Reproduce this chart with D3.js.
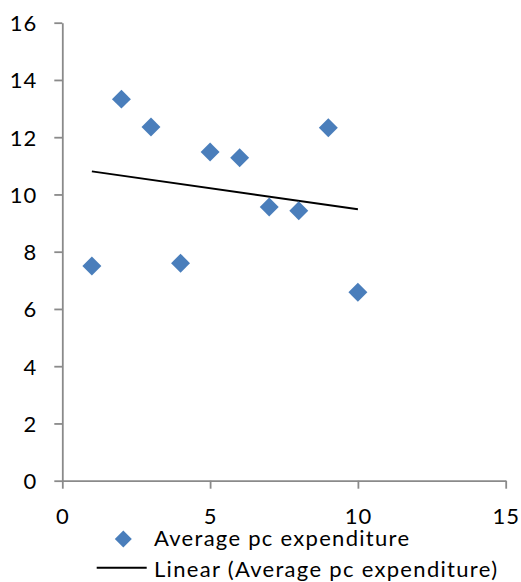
<!DOCTYPE html>
<html>
<head>
<meta charset="utf-8">
<script src="https://cdn.jsdelivr.net/npm/d3@7"></script>
<style>
  html, body { margin: 0; padding: 0; background: #ffffff; }
  svg { display: block; }
  text { font-family: Lato, "Open Sans", sans-serif; fill: #000; }
</style>
</head>
<body>
<svg id="chart" width="521" height="582"></svg>
<script>
// Observation index and average per-capita expenditure
const observations = [1, 2, 3, 4, 5, 6, 7, 8, 9, 10];
const expenditure = [7.50, 13.33, 12.36, 7.60, 11.48, 11.28, 9.56, 9.43, 12.33, 6.58];
const xTicks = [0, 5, 10, 15];
const yTicks = [0, 2, 4, 6, 8, 10, 12, 14, 16];
const seriesName = "Average pc expenditure";
const trendName = "Linear (Average pc expenditure)";

const svg = d3.select("#chart");
const W = 521, H = 582;
const margin = { left: 62.3, right: W - 505.7, top: 22.7, bottom: H - 480.7 };

const x = d3.scaleLinear().domain([0, 15]).range([margin.left, W - margin.right]);
const y = d3.scaleLinear().domain([0, 16]).range([H - margin.bottom, margin.top]);

const axisColor = "#8a8a8a";
const fontSize = 22;
const fontFamily = "Lato, 'Open Sans', sans-serif";

// Y axis
const yAxis = svg.append("g")
  .attr("transform", `translate(${x(0)},0)`)
  .call(d3.axisLeft(y).tickValues(yTicks).tickSize(8).tickPadding(17).tickSizeOuter(0));
// X axis
const xAxis = svg.append("g")
  .attr("transform", `translate(0,${y(0)})`)
  .call(d3.axisBottom(x).tickValues(xTicks).tickSize(8).tickSizeOuter(0));

[yAxis, xAxis].forEach(g => {
  g.select(".domain").attr("stroke", axisColor).attr("stroke-width", 1.8);
  g.selectAll(".tick line").attr("stroke", axisColor).attr("stroke-width", 1.8);
  g.selectAll(".tick text")
    .style("font-family", fontFamily)
    .attr("font-size", fontSize)
    .attr("letter-spacing", 1)
    .attr("fill", "#000");
});
yAxis.selectAll(".tick text").attr("dy", "0.36em");
xAxis.selectAll(".tick text").attr("y", 43.3).attr("dy", 0);

// Least-squares trend line over the observed range
const n = observations.length;
const mx = d3.mean(observations), my = d3.mean(expenditure);
let sxy = 0, sxx = 0;
for (let i = 0; i < n; i++) {
  sxy += (observations[i] - mx) * (expenditure[i] - my);
  sxx += (observations[i] - mx) ** 2;
}
const slope = sxy / sxx, intercept = my - slope * mx;
const xMin = d3.min(observations), xMax = d3.max(observations);
const trend = [[xMin, intercept + slope * xMin], [xMax, intercept + slope * xMax]];

svg.append("path")
  .datum(trend)
  .attr("fill", "none")
  .attr("stroke", "#000")
  .attr("stroke-width", 2)
  .attr("d", d3.line().x(d => x(d[0])).y(d => y(d[1])));

// Diamond markers
const markerColor = "#4a7ebb";
const diamond = d3.symbol().type(d3.symbolSquare).size(180);
svg.append("g").selectAll("path")
  .data(observations.map((o, i) => [o, expenditure[i]]))
  .join("path")
  .attr("d", diamond)
  .attr("fill", markerColor)
  .attr("transform", d => `translate(${x(d[0])},${y(d[1])}) rotate(45)`);

// Legend
const legend = svg.append("g");
legend.append("path")
  .attr("d", d3.symbol().type(d3.symbolSquare).size(145))
  .attr("fill", markerColor)
  .attr("transform", "translate(123.3,539) rotate(45)");
legend.append("text")
  .attr("x", 154).attr("y", 546)
  .attr("font-size", fontSize)
  .attr("textLength", 255)
  .attr("lengthAdjust", "spacing")
  .text(seriesName);
legend.append("line")
  .attr("x1", 96.7).attr("x2", 146.7)
  .attr("y1", 567.7).attr("y2", 567.7)
  .attr("stroke", "#000").attr("stroke-width", 2);
legend.append("text")
  .attr("x", 154).attr("y", 577)
  .attr("font-size", fontSize)
  .attr("textLength", 343)
  .attr("lengthAdjust", "spacing")
  .text(trendName);
</script>
</body>
</html>
